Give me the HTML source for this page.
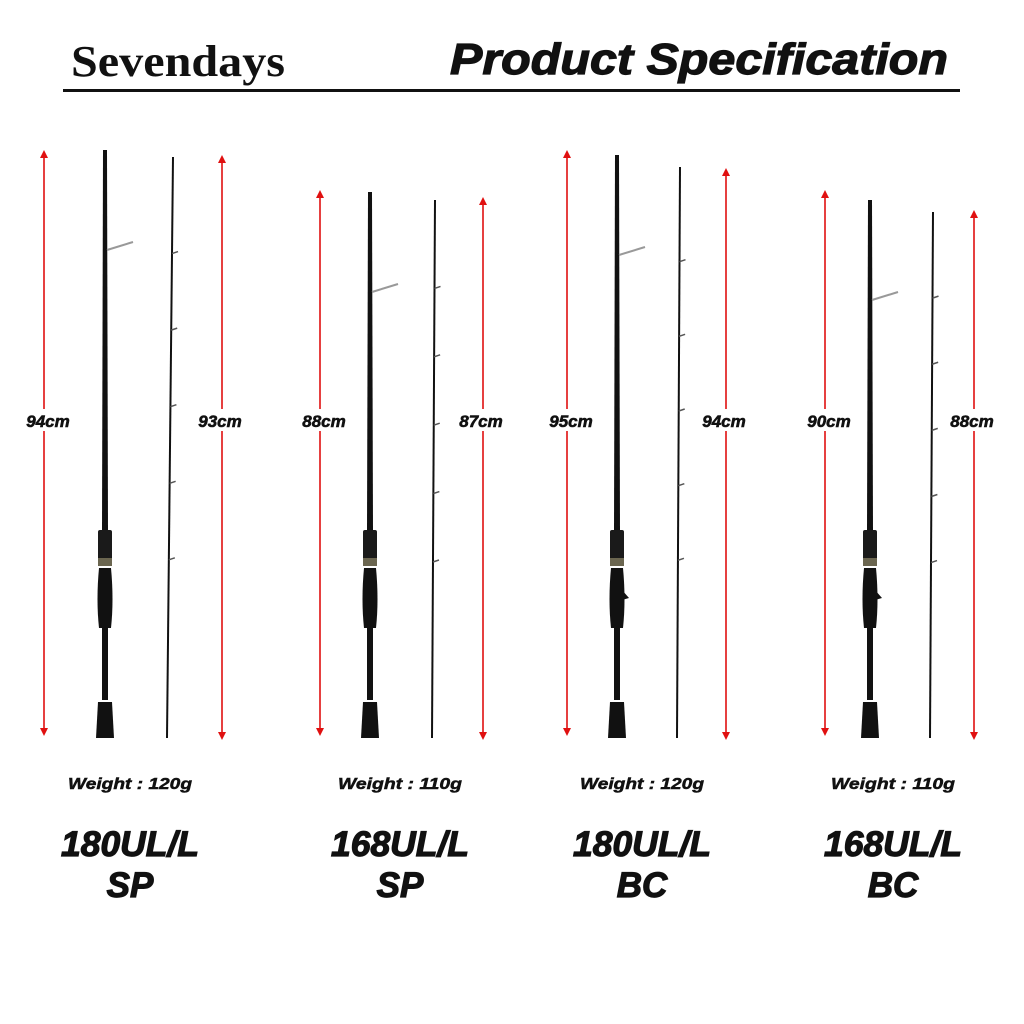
<!DOCTYPE html>
<html><head><meta charset="utf-8"><style>
html,body{margin:0;padding:0;background:#fff;width:1024px;height:1024px;overflow:hidden}
svg{display:block}
</style></head><body>
<svg id="s" width="1024" height="1024" viewBox="0 0 1024 1024" xmlns="http://www.w3.org/2000/svg">
<rect width="1024" height="1024" fill="#fff"/>
<text x="71" y="76" font-family="Liberation Serif, serif" font-size="44" font-weight="bold" fill="#111" textLength="214" lengthAdjust="spacingAndGlyphs">Sevendays</text>
<text x="450" y="74" font-family="Liberation Sans, sans-serif" font-size="44" font-weight="bold" font-style="italic" fill="#111" stroke="#111" stroke-width="1.2" textLength="498" lengthAdjust="spacingAndGlyphs">Product Specification</text>
<rect x="63" y="89" width="897" height="3" fill="#111"/>
<g id="g"></g>
</svg>
<script>
const g=document.getElementById('g');let h='';
function arrow(x,y1,y2){h+=`<line x1="${x}" y1="${y1+6}" x2="${x}" y2="${y2-6}" stroke="#e01010" stroke-width="1.6"/>
<polygon points="${x-4},${y1+8} ${x},${y1} ${x+4},${y1+8}" fill="#e01010"/><polygon points="${x-4},${y2-8} ${x},${y2} ${x+4},${y2-8}" fill="#e01010"/>`;}
function lab(x,y,t){h+=`<rect x="${x-30}" y="${y-12}" width="60" height="22" fill="#fff"/><text x="${x}" y="${y+6}" text-anchor="middle" font-family="Liberation Sans,sans-serif" font-size="17" font-weight="bold" font-style="italic" fill="#111" stroke="#111" stroke-width="0.6">${t}</text>`;}
function butt(x,top,bc){h+=`<polygon points="${x-2},${top} ${x+2},${top} ${x+3},530 ${x-3},530" fill="#111"/>
<line x1="${x+2}" y1="${top+100}" x2="${x+28}" y2="${top+92}" stroke="#999" stroke-width="2"/>
<rect x="${x-7}" y="530" width="14" height="30" rx="2" fill="#1a1a1a"/><rect x="${x-7}" y="558" width="14" height="8" fill="#6b6650"/>
<path d="M${x-6},568 Q${x-9},600 ${x-6},628 L${x+6},628 Q${x+9},600 ${x+6},568Z" fill="#111"/>
${bc?`<path d="M${x+5},590 l7,8 l-7,2z" fill="#111"/>`:''}
<rect x="${x-3}" y="628" width="6" height="72" fill="#111"/>
<path d="M${x-7},702 L${x+7},702 L${x+9},738 L${x-9},738Z" fill="#111"/>`;}
function tip(xt,top,xb,n){h+=`<line x1="${xt}" y1="${top}" x2="${xb}" y2="738" stroke="#111" stroke-width="2"/>`;
for(let i=1;i<=n;i++){const y=top+(560-top)*i/n*0.95+20;const x=xt+(xb-xt)*(y-top)/(738-top);h+=`<line x1="${x}" y1="${y}" x2="${x+6}" y2="${y-2}" stroke="#555" stroke-width="1.5"/>`;}}
const G=[[44,150,222,155,105,150,173,157,167,'94cm','93cm',130,'Weight : 120g','180UL/L','SP',0],
[320,190,483,197,370,192,435,200,432,'88cm','87cm',400,'Weight : 110g','168UL/L','SP',0],
[567,150,726,168,617,155,680,167,677,'95cm','94cm',642,'Weight : 120g','180UL/L','BC',1],
[825,190,974,210,870,200,933,212,930,'90cm','88cm',893,'Weight : 110g','168UL/L','BC',1]];
for(const a of G){arrow(a[0],a[1],736);arrow(a[2],a[3],740);lab(a[0]+4,421,a[9]);lab(a[2]-2,421,a[10]);
butt(a[4],a[5],a[15]);tip(a[6],a[7],a[8],5);
h+=`<text x="${a[11]}" y="789" text-anchor="middle" font-family="Liberation Sans,sans-serif" font-size="16" font-weight="bold" font-style="italic" fill="#111" stroke="#111" stroke-width="0.5" textLength="124" lengthAdjust="spacingAndGlyphs">${a[12]}</text>
<text x="${a[11]}" y="856" text-anchor="middle" font-family="Liberation Sans,sans-serif" font-size="35" font-weight="bold" font-style="italic" fill="#111" stroke="#111" stroke-width="1.2" textLength="138" lengthAdjust="spacingAndGlyphs">${a[13]}</text>
<text x="${a[11]}" y="897" text-anchor="middle" font-family="Liberation Sans,sans-serif" font-size="35" font-weight="bold" font-style="italic" fill="#111" stroke="#111" stroke-width="1.2">${a[14]}</text>`;}
g.innerHTML=h;
</script>
</body></html>
